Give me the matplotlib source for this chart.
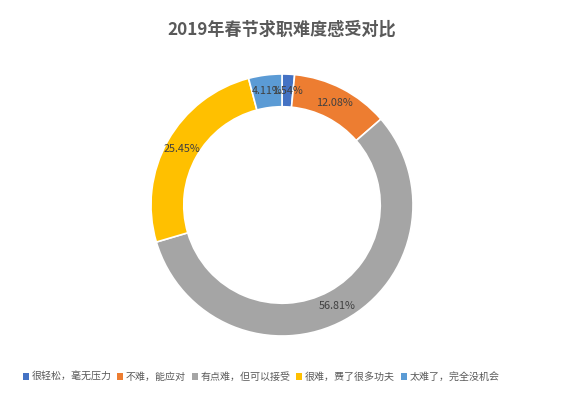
import matplotlib
matplotlib.use("Agg")
import matplotlib.pyplot as plt
from matplotlib.patches import Patch
import numpy as np
plt.rcParams["font.family"] = ["Noto Sans CJK SC", "DejaVu Sans"]

labels = ["很轻松，毫无压力", "不难，能应对", "有点难，但可以接受", "很难，费了很多功夫", "太难了，完全没机会"]
values = [1.54, 12.08, 56.81, 25.45, 4.11]
colors = ["#4472C4", "#ED7D31", "#A5A5A5", "#FFC000", "#5B9BD5"]

W, H = 568, 393
fig = plt.figure(figsize=(W / 100, H / 100), dpi=100)
cx, cy, R = 282, 205, 131
half = 1.1 * R
ax = fig.add_axes([(cx - half) / W, (H - cy - half) / H, 2 * half / W, 2 * half / H])
wedges, _ = ax.pie(values, colors=colors, startangle=90, counterclock=False, radius=1.0,
                   wedgeprops=dict(width=0.25, edgecolor="white", linewidth=1.2))
ang = 90.0
for v in values:
    mid = np.deg2rad(ang - v * 3.6 / 2)
    ax.text(0.875 * np.cos(mid), 0.875 * np.sin(mid), f"{v:.2f}%", ha="center", va="center",
            fontsize=7.8, color="#404040")
    ang -= v * 3.6
ax.set_xlim(-1.1, 1.1); ax.set_ylim(-1.1, 1.1)
ax.set_aspect("equal"); ax.axis("off")

fig.text(cx / W, 1 - 30 / H, "2019年春节求职难度感受对比", ha="center", va="center",
         fontsize=12.3, fontweight="bold", color="#595959")

handles = [Patch(facecolor=c, edgecolor="none") for c in colors]
fig.legend(handles, labels, loc="center", bbox_to_anchor=(261 / W, 1 - 377 / H), ncol=5,
           frameon=False, fontsize=7.2, handlelength=0.6, handleheight=0.6, handletextpad=0.3,
           columnspacing=0.55, labelcolor="#595959")

fig.savefig("out.png", dpi=100)
